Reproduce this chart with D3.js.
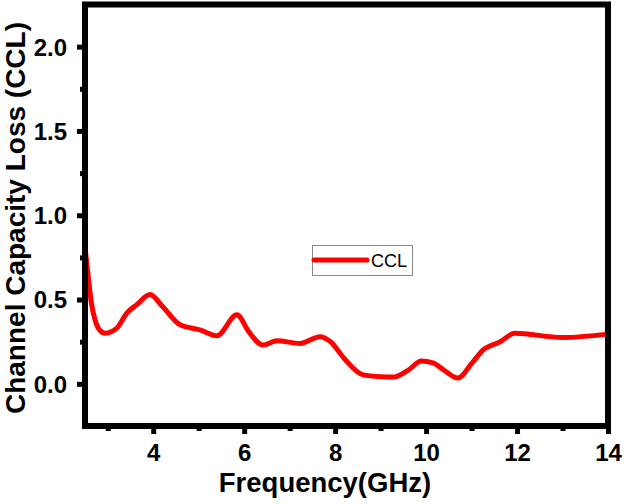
<!DOCTYPE html>
<html><head><meta charset="utf-8">
<script src="https://cdn.jsdelivr.net/npm/d3@7"></script>
<style>body{margin:0;background:#fff;}svg{display:block;}</style>
</head><body>
<svg id="c" width="624" height="504"></svg>
<script>
const freq = [2.5, 2.57, 2.64, 2.72, 2.82, 2.94, 3.2, 3.42, 3.64, 3.93, 4.2, 4.59, 5.03, 5.4, 5.84, 6.1, 6.41, 6.72, 7.23, 7.67, 7.9, 8.2, 8.6, 9.0, 9.27, 9.6, 9.9, 10.15, 10.4, 10.7, 11.0, 11.25, 11.63, 11.95, 13.0, 14.0];
const ccl = [0.81, 0.64, 0.48, 0.38, 0.32, 0.30, 0.33, 0.42, 0.47, 0.53, 0.46, 0.35, 0.32, 0.285, 0.41, 0.31, 0.23, 0.255, 0.24, 0.28, 0.25, 0.15, 0.055, 0.042, 0.04, 0.08, 0.135, 0.125, 0.08, 0.035, 0.12, 0.20, 0.25, 0.30, 0.275, 0.295];
const xMajor = [4, 6, 8, 10, 12, 14];
const xMinor = [3, 5, 7, 9, 11, 13];
const yMajor = [0.0, 0.5, 1.0, 1.5, 2.0];
const yMinor = [0.25, 0.75, 1.25, 1.75];
const seriesName = "CCL";
const xTitle = "Frequency(GHz)";
const yTitle = "Channel Capacity Loss (CCL)";

const svg = d3.select("#c");
const L = 85, R = 608, T = 4.5, B = 426;
const x = d3.scaleLinear().domain([2.5, 14]).range([L, R]);
const y = d3.scaleLinear().domain([-0.25, 2.25]).range([B, T]);

const font = "'Liberation Sans', Arial, sans-serif";

// curve
svg.append("path")
  .datum(freq.map((f, i) => [f, ccl[i]]))
  .attr("fill", "none").attr("stroke", "#ff0000").attr("stroke-width", 5)
  .attr("stroke-linejoin", "round").attr("stroke-linecap", "round")
  .attr("d", d3.line().x(d => x(d[0])).y(d => y(d[1])).curve(d3.curveMonotoneX));

// axes with ticks
const xAxis = svg.append("g").attr("transform", `translate(0,${B})`)
  .call(d3.axisBottom(x).tickValues(xMajor).tickSize(8).tickFormat(d3.format("d")));
const xAxisMinor = svg.append("g").attr("transform", `translate(0,${B})`)
  .call(d3.axisBottom(x).tickValues(xMinor).tickSize(5).tickFormat(""));
const yAxis = svg.append("g").attr("transform", `translate(${L},0)`)
  .call(d3.axisLeft(y).tickValues(yMajor).tickSize(8).tickFormat(d3.format(".1f")));
const yAxisMinor = svg.append("g").attr("transform", `translate(${L},0)`)
  .call(d3.axisLeft(y).tickValues(yMinor).tickSize(5).tickFormat(""));

[xAxis, xAxisMinor, yAxis, yAxisMinor].forEach(g => {
  g.select(".domain").remove();
  g.selectAll(".tick line").attr("stroke", "#000").attr("stroke-width", 5);
  g.selectAll(".tick text").attr("fill", "#000").attr("font-family", font)
    .attr("font-weight", "bold").attr("font-size", 24);
});
xAxis.selectAll(".tick text").attr("y", 0).attr("dy", 0).attr("transform", "translate(0,35)");
yAxis.selectAll(".tick text").attr("x", -18).attr("dy", "0.35em");

// frame
svg.append("rect").attr("x", L).attr("y", T).attr("width", R - L).attr("height", B - T)
  .attr("fill", "none").attr("stroke", "#000").attr("stroke-width", 6);

// titles
svg.append("text").attr("x", 325).attr("y", 492).attr("text-anchor", "middle")
  .attr("font-family", font).attr("font-weight", "bold").attr("font-size", 27.5).text(xTitle);
svg.append("text").attr("transform", `translate(25,218) rotate(-90)`)
  .attr("text-anchor", "middle")
  .attr("font-family", font).attr("font-weight", "bold").attr("font-size", 28).text(yTitle);

// legend
const lg = svg.append("g");
lg.append("rect").attr("x", 312.5).attr("y", 245.5).attr("width", 100).attr("height", 30)
  .attr("fill", "#fff").attr("stroke", "#888").attr("stroke-width", 1);
lg.append("line").attr("x1", 314).attr("x2", 367).attr("y1", 260).attr("y2", 260)
  .attr("stroke", "#ff0000").attr("stroke-width", 5).attr("stroke-linecap", "round");
lg.append("text").attr("x", 371).attr("y", 267).attr("font-family", font)
  .attr("font-size", 18).attr("fill", "#000").text(seriesName);
</script>
</body></html>
